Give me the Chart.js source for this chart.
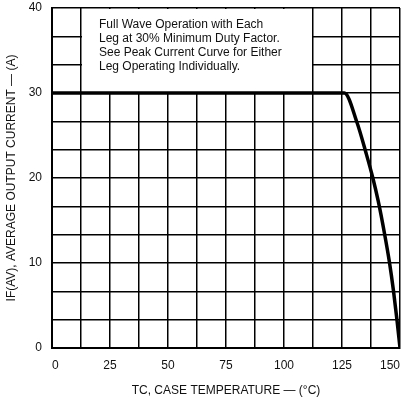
<!DOCTYPE html>
<html>
<head>
<meta charset="utf-8">
<script src="https://cdn.jsdelivr.net/npm/chart.js@4/dist/chart.umd.min.js"></script>
<style>
  html, body { margin: 0; padding: 0; background: #fff; }
  #wrap { width: 402px; height: 402px; }
</style>
</head>
<body>
<div id="wrap"><canvas id="derating"></canvas></div>
<script>
// case temperature (degC) vs average output current (A)
tempC = [0, 126, 131.5, 135.3, 138.3, 140.6, 143.3, 145.5, 147.2, 148.7, 150];
currentA = [30, 30, 26.5, 23, 20, 17.3, 13.5, 10, 6.7, 3.3, 0];
xLabels = [0, 25, 50, 75, 100, 125, 150];
yLabels = [0, 10, 20, 30, 40];
note = ["Full Wave Operation with Each",
        "Leg at 30% Minimum Duty Factor.",
        "See Peak Current Curve for Either",
        "Leg Operating Individually."];

points = [];
for (var i = 0; i < tempC.length; i++) {
  points.push({x: tempC[i], y: currentA[i]});
}

// y grid every 10/3 A, labels only on the tens
yGrid = [];
for (var k = 0; k <= 12; k++) yGrid.push(k * 10 / 3);

function isLabel(v, list) {
  for (var j = 0; j < list.length; j++) {
    if (Math.abs(v - list[j]) < 0.01) return true;
  }
  return false;
}

var noteBox = {
  id: 'noteBox',
  beforeDatasetsDraw: function(chart) {
    var ctx = chart.ctx, x = chart.scales.x, y = chart.scales.y;
    var l = x.getPixelForValue(12.5), r = x.getPixelForValue(112.5);
    var t = y.getPixelForValue(40), b = y.getPixelForValue(30);
    ctx.save();
    ctx.fillStyle = '#fff';
    ctx.fillRect(l + 1, t + 1, r - l - 2, b - t - 2);
    ctx.fillStyle = '#111';
    ctx.font = '12px "Liberation Sans", Arial, sans-serif';
    ctx.textBaseline = 'middle';
    for (var n = 0; n < note.length; n++) {
      ctx.fillText(note[n], l + 18, t + 17 + n * 14);
    }
    ctx.restore();
  }
};

new Chart(document.getElementById('derating'), {
  type: 'scatter',
  data: {
    datasets: [{
      data: points,
      showLine: true,
      borderColor: '#000',
      borderWidth: 3.5,
      pointRadius: 0,
      cubicInterpolationMode: 'monotone'
    }]
  },
  options: {
    responsive: true,
    maintainAspectRatio: false,
    animation: false,
    layout: { padding: { top: 8, right: 2, left: 0, bottom: 0 } },
    plugins: { legend: { display: false }, tooltip: { enabled: false } },
    scales: {
      x: {
        type: 'linear',
        min: 0,
        max: 150,
        afterBuildTicks: function(s) {
          var t = [];
          for (var v = 0; v <= 150; v += 12.5) t.push({value: v});
          s.ticks = t;
        },
        afterFit: function(s) { s.height = 54; s.paddingRight = 0; s.paddingLeft = 0; },
        ticks: {
          autoSkip: false,
          maxRotation: 0,
          align: 'inner',
          color: '#111',
          padding: 10,
          font: { family: '"Liberation Sans", Arial, sans-serif', size: 12 },
          callback: function(v) { return isLabel(v, xLabels) ? String(Math.round(v)) : ''; }
        },
        grid: { color: '#000', lineWidth: 1.5, drawTicks: false },
        border: { color: '#000', width: 2 },
        title: {
          display: true,
          text: 'TC, CASE TEMPERATURE — (°C)',
          color: '#111',
          padding: { top: 2 },
          font: { family: '"Liberation Sans", Arial, sans-serif', size: 12 }
        }
      },
      y: {
        type: 'linear',
        min: 0,
        max: 40,
        afterBuildTicks: function(s) {
          s.ticks = yGrid.map(function(v) { return {value: v}; });
        },
        afterFit: function(s) { s.width = 52; s.paddingTop = 0; s.paddingBottom = 0; },
        ticks: {
          autoSkip: false,
          color: '#111',
          padding: 10,
          font: { family: '"Liberation Sans", Arial, sans-serif', size: 12 },
          callback: function(v) { return isLabel(v, yLabels) ? String(Math.round(v)) : ''; }
        },
        grid: { color: '#000', lineWidth: 1.5, drawTicks: false },
        border: { color: '#000', width: 2 },
        title: {
          display: true,
          text: 'IF(AV), AVERAGE OUTPUT CURRENT — (A)',
          color: '#111',
          padding: { bottom: 2 },
          font: { family: '"Liberation Sans", Arial, sans-serif', size: 12 }
        }
      }
    }
  },
  plugins: [noteBox]
});
</script>
</body>
</html>
